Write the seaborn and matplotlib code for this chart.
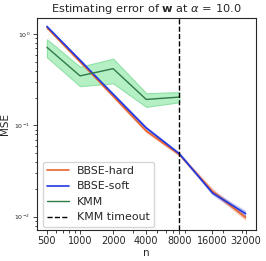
import numpy as np
import pandas as pd
import matplotlib
matplotlib.use("Agg")
import matplotlib.pyplot as plt
import seaborn as sns

n = [500, 1000, 2000, 4000, 8000, 16000, 32000]
hard = [1.18, 0.50, 0.21, 0.087, 0.048, 0.0190, 0.0098]
hard_lo = [1.15, 0.48, 0.20, 0.083, 0.046, 0.0180, 0.0091]
hard_hi = [1.21, 0.52, 0.22, 0.091, 0.050, 0.0205, 0.0105]
soft = [1.22, 0.52, 0.22, 0.094, 0.049, 0.0182, 0.0108]
soft_lo = [1.19, 0.50, 0.21, 0.090, 0.047, 0.0172, 0.0100]
soft_hi = [1.25, 0.54, 0.23, 0.098, 0.051, 0.0194, 0.0117]

n_kmm = [500, 1000, 2000, 4000, 8000]
kmm = [0.72, 0.35, 0.42, 0.193, 0.205]
kmm_lo = [0.56, 0.27, 0.29, 0.160, 0.180]
kmm_hi = [0.88, 0.44, 0.54, 0.226, 0.232]
timeout = 8000

sns.set_style("ticks")
plt.rcParams['font.family'] = ['DejaVu Sans']

fig = plt.figure(figsize=(2.66, 2.61), dpi=100)
ax = fig.add_axes([37 / 266, 1 - 230 / 261, (255.5 - 37) / 266, (230 - 17.7) / 261])

c_hard = "#e8642e"
c_soft = "#2038e0"
c_kmm = "#2f7a45"

ax.fill_between(n, hard_lo, hard_hi, color=c_hard, alpha=0.35, linewidth=0)
ax.fill_between(n, soft_lo, soft_hi, color=c_soft, alpha=0.3, linewidth=0)
ax.fill_between(n_kmm, kmm_lo, kmm_hi, facecolor="#b4f0c4", edgecolor="#8fe0a8", linewidth=0.8)

sns.lineplot(x=n, y=hard, ax=ax, color=c_hard, linewidth=1.2, label="BBSE-hard")
sns.lineplot(x=n, y=soft, ax=ax, color=c_soft, linewidth=1.2, label="BBSE-soft")
sns.lineplot(x=n_kmm, y=kmm, ax=ax, color=c_kmm, linewidth=1.0, label="KMM")
ax.axvline(timeout, color="k", linestyle="--", linewidth=1.0, label="KMM timeout")

ax.set_xscale("log")
ax.set_yscale("log")
ax.set_xticks(n)
ax.set_xticklabels([str(v) for v in n])
ax.set_ylim(10 ** -2.146, 10 ** 0.182)
ax.tick_params(axis="x", labelsize=7, pad=1.5)
ax.tick_params(axis="y", labelsize=4.5, pad=2)
ax.tick_params(which="both", width=0.6)
ax.tick_params(which="major", length=3)
ax.tick_params(which="minor", length=1.8)
for s in ax.spines.values():
    s.set_linewidth(0.8)

ax.set_title(r"Estimating error of $\mathbf{w}$ at $\alpha$ = 10.0", fontsize=8.2, pad=4)
ax.set_xlabel("n", fontsize=7.5, labelpad=1)
ax.set_ylabel("MSE", fontsize=7.5, labelpad=3)
ax.legend(loc="lower left", bbox_to_anchor=(0.026, 0.015), fontsize=7.9,
          handlelength=2.0, handletextpad=0.7, borderaxespad=0, labelspacing=0.5)

fig.savefig("out.png", dpi=100)
